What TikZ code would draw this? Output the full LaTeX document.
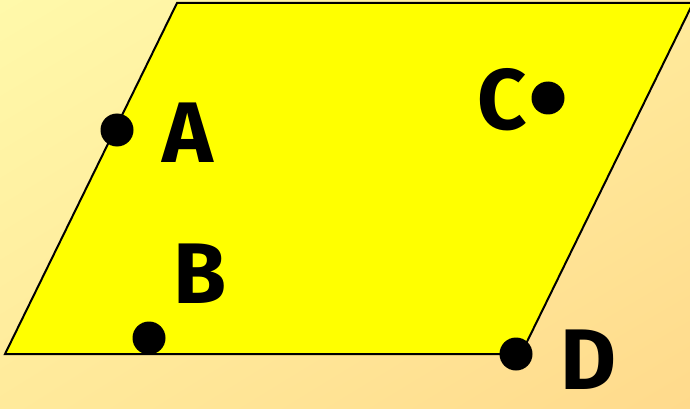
\documentclass[tikz,border=0pt]{standalone}
\usepackage{fontspec}
\setmainfont{Fira Sans}
\usetikzlibrary{shadings}
\definecolor{bgA}{RGB}{255,249,170}
\definecolor{bgB}{RGB}{255,218,140}
\definecolor{bgM}{RGB}{255,234,155}
\definecolor{plane}{RGB}{255,255,0}
\tikzset{
  pt/.style={circle,fill=black,inner sep=0pt,minimum size=33pt},
  lbl/.style={font=\fontsize{86}{86}\selectfont\bfseries,inner sep=0pt},
}
\begin{document}
\begin{tikzpicture}[x=1pt,y=-1pt]
\useasboundingbox (0,0) rectangle (690,409);
\shade[upper left=bgA,upper right=bgM,lower left=bgM,lower right=bgB] (0,0) rectangle (690,409);
\coordinate (p1) at (5,354);
\coordinate (p2) at (177,3);
\coordinate (p3) at (693,3);
\coordinate (p4) at (521,354);
\filldraw[fill=plane,draw=black,line width=2pt,line join=miter] (p1) -- (p2) -- (p3) -- (p4) -- cycle;
\node[pt] (a) at (117,130) {};
\node[pt] (b) at (149,338) {};
\node[pt] (c) at (548,98) {};
\node[pt] (d) at (516,354) {};
\node[lbl] (la) at (188,133) {A};
\node[lbl] (lb) at (200,274) {B};
\node[lbl] (lc) at (502,100) {C};
\node[lbl] (ld) at (588,360) {D};
\end{tikzpicture}
\end{document}
